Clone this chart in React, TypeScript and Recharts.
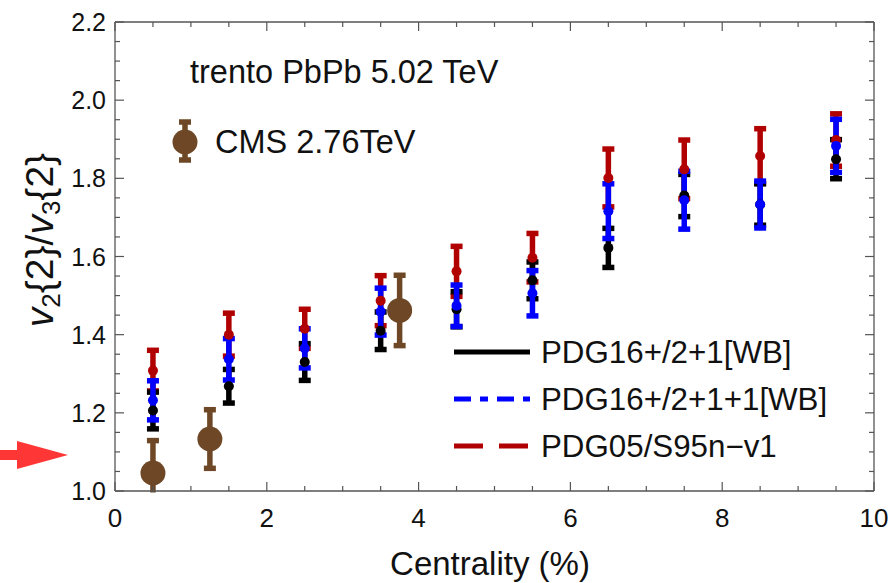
import React from 'react';
import { ComposedChart, Scatter, XAxis, YAxis, ErrorBar } from 'recharts';

// ---------- data ----------
const centrality = [0.5, 1.5, 2.5, 3.5, 4.5, 5.5, 6.5, 7.5, 8.5, 9.5];

const pdg16 = [1.206, 1.268, 1.33, 1.41, 1.465, 1.539, 1.622, 1.756, 1.733, 1.849];
const pdg16Err = [0.047, 0.043, 0.047, 0.048, 0.045, 0.047, 0.05, 0.054, 0.053, 0.05];

const pdg16p1 = [1.232, 1.337, 1.365, 1.459, 1.474, 1.506, 1.716, 1.744, 1.733, 1.883];
const pdg16p1Err = [0.05, 0.053, 0.05, 0.06, 0.053, 0.058, 0.07, 0.074, 0.06, 0.068];

const pdg05 = [1.308, 1.4, 1.415, 1.487, 1.562, 1.597, 1.801, 1.823, 1.857, 1.898];
const pdg05Err = [0.052, 0.055, 0.05, 0.064, 0.064, 0.062, 0.074, 0.075, 0.07, 0.067];

const cmsX = [0.5, 1.25, 3.75];
const cmsY = [1.046, 1.133, 1.462];
const cmsErr = [0.083, 0.075, 0.09];

const xTicks = [0, 0.5, 1, 1.5, 2, 2.5, 3, 3.5, 4, 4.5, 5, 5.5, 6, 6.5, 7, 7.5, 8, 8.5, 9, 9.5, 10];
const xLabelTicks = [0, 2, 4, 6, 8, 10];
const yTicks = [1.0, 1.05, 1.1, 1.15, 1.2, 1.25, 1.3, 1.35, 1.4, 1.45, 1.5, 1.55, 1.6, 1.65, 1.7, 1.75, 1.8, 1.85, 1.9, 1.95, 2.0, 2.05, 2.1, 2.15, 2.2];
const yLabelTicks = [1.0, 1.2, 1.4, 1.6, 1.8, 2.0, 2.2];

const seriesNames = ['PDG16+/2+1[WB]', 'PDG16+/2+1+1[WB]', 'PDG05/S95n\u2212v1'];
const cmsName = 'CMS 2.76TeV';
const systemLabel = 'trento PbPb 5.02 TeV';

// ---------- styles ----------
const BLACK = '#000000';
const BLUE = '#0000ff';
const RED = '#b00000';
const BROWN = '#6e4826';
const AX = '#555555';
const FONT = '"Liberation Sans", Arial, Helvetica, sans-serif';
const EB_W = 5.5;
const EB_CAP = 6;

const mk = (xs: number[], ys: number[], es: number[]) =>
  xs.map((x, i) => ({ x, y: ys[i], err: es[i] }));

const dataBlack = mk(centrality, pdg16, pdg16Err);
const dataBlue = mk(centrality, pdg16p1, pdg16p1Err);
const dataRed = mk(centrality, pdg05, pdg05Err);
const dataCms = mk(cmsX, cmsY, cmsErr);

const isIn = (arr: number[], v: number) => arr.some((a) => Math.abs(a - v) < 1e-6);

const BottomTick = (props: any) => {
  const { x, y, payload } = props;
  const v = payload.value;
  const major = isIn(xLabelTicks, v);
  return (
    <g>
      <line x1={x} x2={x} y1={y} y2={y - (major ? 9 : 5)} stroke={AX} strokeWidth={1.2} />
      {major && (
        <text x={x} y={y + 36} textAnchor="middle" fontSize={26} fill="#111" fontFamily={FONT}>
          {String(v)}
        </text>
      )}
    </g>
  );
};

const TopTick = (props: any) => {
  const { x, y, payload } = props;
  const major = isIn(xLabelTicks, payload.value);
  return <line x1={x} x2={x} y1={y} y2={y + (major ? 9 : 5)} stroke={AX} strokeWidth={1.2} />;
};

const LeftTick = (props: any) => {
  const { x, y, payload } = props;
  const v = payload.value;
  const major = isIn(yLabelTicks, v);
  return (
    <g>
      <line x1={x} x2={x + (major ? 9 : 5)} y1={y} y2={y} stroke={AX} strokeWidth={1.2} />
      {major && (
        <text x={x - 9} y={y + 9} textAnchor="end" fontSize={25} fill="#111" fontFamily={FONT}>
          {v.toFixed(1)}
        </text>
      )}
    </g>
  );
};

const RightTick = (props: any) => {
  const { x, y, payload } = props;
  const major = isIn(yLabelTicks, payload.value);
  return <line x1={x} x2={x - (major ? 9 : 5)} y1={y} y2={y} stroke={AX} strokeWidth={1.2} />;
};

const dot = (color: string, r: number) => (props: any) => {
  const { cx, cy } = props;
  if (cx == null || cy == null) return <g />;
  return <circle cx={cx} cy={cy} r={r} fill={color} />;
};

export default function App() {
  return (
    <div style={{ position: 'absolute', left: 0, top: 0, width: 892, height: 583, background: '#fff' }}>
      <ComposedChart
        width={892}
        height={583}
        margin={{ top: 21, right: 17, bottom: 91, left: 114 }}
      >
        <XAxis
          xAxisId="b"
          type="number"
          dataKey="x"
          domain={[0, 10]}
          ticks={xTicks}
          interval={0}
          allowDataOverflow
          height={1}
          tickSize={0}
          tickMargin={0}
          tick={BottomTick}
          tickLine={false}
          axisLine={{ stroke: AX, strokeWidth: 1.3 }}
        />
        <XAxis
          xAxisId="t"
          orientation="top"
          type="number"
          dataKey="x"
          domain={[0, 10]}
          ticks={xTicks}
          interval={0}
          allowDataOverflow
          height={1}
          tickSize={0}
          tickMargin={0}
          tick={TopTick}
          tickLine={false}
          axisLine={{ stroke: AX, strokeWidth: 1.3 }}
        />
        <YAxis
          yAxisId="l"
          type="number"
          domain={[1, 2.2]}
          ticks={yTicks}
          interval={0}
          allowDataOverflow
          width={1}
          tickSize={0}
          tickMargin={0}
          tick={LeftTick}
          tickLine={false}
          axisLine={{ stroke: AX, strokeWidth: 1.3 }}
        />
        <YAxis
          yAxisId="r"
          orientation="right"
          type="number"
          domain={[1, 2.2]}
          ticks={yTicks}
          interval={0}
          allowDataOverflow
          width={1}
          tickSize={0}
          tickMargin={0}
          tick={RightTick}
          tickLine={false}
          axisLine={{ stroke: AX, strokeWidth: 1.3 }}
        />

        <Scatter xAxisId="b" yAxisId="l" data={dataRed} dataKey="y" shape={dot(RED, 5)} isAnimationActive={false}>
          <ErrorBar dataKey="err" direction="y" width={EB_CAP} strokeWidth={EB_W} stroke={RED} />
        </Scatter>
        <Scatter xAxisId="b" yAxisId="l" data={dataBlack} dataKey="y" shape={dot(BLACK, 5)} isAnimationActive={false}>
          <ErrorBar dataKey="err" direction="y" width={EB_CAP} strokeWidth={EB_W} stroke={BLACK} />
        </Scatter>
        <Scatter xAxisId="b" yAxisId="l" data={dataBlue} dataKey="y" shape={dot(BLUE, 5)} isAnimationActive={false}>
          <ErrorBar dataKey="err" direction="y" width={EB_CAP} strokeWidth={EB_W} stroke={BLUE} />
        </Scatter>
        <Scatter xAxisId="b" yAxisId="l" data={dataCms} dataKey="y" shape={dot(BROWN, 12.5)} isAnimationActive={false}>
          <ErrorBar dataKey="err" direction="y" width={EB_CAP} strokeWidth={EB_W} stroke={BROWN} />
        </Scatter>
      </ComposedChart>

      <svg
        width={892}
        height={583}
        style={{ position: 'absolute', left: 0, top: 0, pointerEvents: 'none' }}
        fontFamily={FONT}
      >
        {/* mask error bar overflow below the frame */}
        <rect x={130} y={492.5} width={50} height={20} fill="#fff" />

        {/* red arrow */}
        <rect x={0} y={450} width={24} height={10} fill="#ff3636" />
        <polygon points="17,441 68,455 17,469" fill="#ff3636" />

        {/* system label */}
        <text x={190} y={83} fontSize={32.5} fill="#111">{systemLabel}</text>

        {/* CMS legend */}
        <line x1={185} x2={185} y1={122} y2={160} stroke={BROWN} strokeWidth={EB_W} />
        <line x1={179} x2={191} y1={122} y2={122} stroke={BROWN} strokeWidth={EB_W} />
        <line x1={179} x2={191} y1={160} y2={160} stroke={BROWN} strokeWidth={EB_W} />
        <circle cx={185} cy={142} r={12.5} fill={BROWN} />
        <text x={215} y={153} fontSize={32.5} fill="#111">{cmsName}</text>

        {/* series legend */}
        <line x1={454} x2={530} y1={352} y2={352} stroke={BLACK} strokeWidth={5} />
        <text x={541} y={363} fontSize={31.3} fill="#111">{seriesNames[0]}</text>
        <line x1={454} x2={530} y1={399} y2={399} stroke={BLUE} strokeWidth={5} strokeDasharray="17 9 8 9" />
        <text x={541} y={410} fontSize={31.3} fill="#111">{seriesNames[1]}</text>
        <line x1={454} x2={530} y1={446} y2={446} stroke={RED} strokeWidth={5} strokeDasharray="29 16" />
        <text x={541} y={457} fontSize={31.3} fill="#111">{seriesNames[2]}</text>

        {/* axis titles */}
        <text x={490} y={575} textAnchor="middle" fontSize={33} fill="#111">Centrality (%)</text>
        <g transform="translate(53,240) rotate(-90)">
          <text x={0} y={0} textAnchor="middle" fontSize={39} fill="#111">
            <tspan fontStyle="italic">v</tspan>
            <tspan dy={7} fontSize={26}>2</tspan>
            <tspan dy={-7}>{'{2}/'}</tspan>
            <tspan fontStyle="italic">v</tspan>
            <tspan dy={7} fontSize={26}>3</tspan>
            <tspan dy={-7}>{'{2}'}</tspan>
          </text>
        </g>
      </svg>
    </div>
  );
}
